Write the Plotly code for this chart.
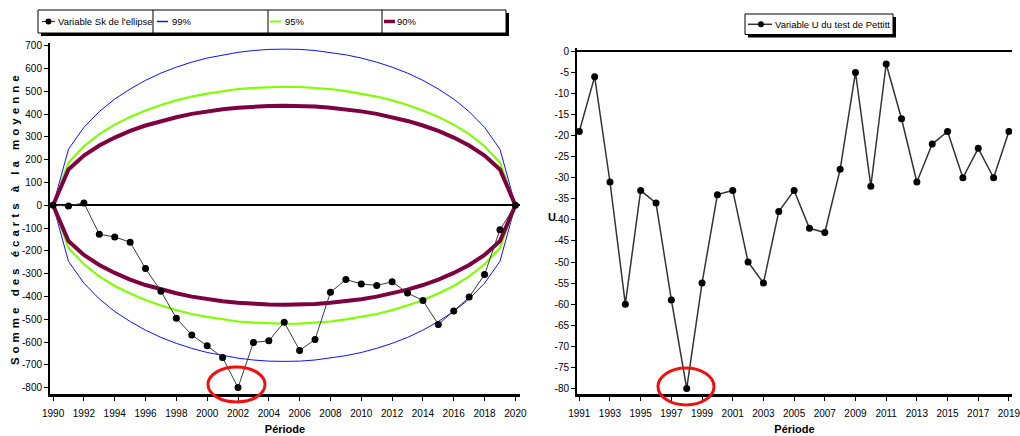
import plotly.graph_objects as go

# ---------------- data ----------------
years_sk = list(range(1990, 2021))
sk_values = [0, -3, 10, -127, -139, -162, -278, -377, -496, -569, -617, -668, -800,
             -602, -595, -513, -637, -589, -382, -326, -345, -352, -336, -385, -418,
             -523, -464, -403, -304, -107, 0]
bound_99 = [0, 246, 342, 411, 466, 510, 548, 580, 606, 628, 646, 660, 671, 679, 684, 685,
            684, 679, 671, 660, 646, 628, 606, 580, 548, 510, 466, 411, 342, 246, 0]
bound_95 = [0, 187, 259, 312, 354, 387, 416, 440, 460, 477, 490, 501, 510, 515, 519, 520,
            519, 515, 510, 501, 490, 477, 460, 440, 416, 387, 354, 312, 259, 187, 0]
bound_90 = [0, 157, 218, 262, 297, 326, 350, 370, 386, 401, 412, 421, 428, 433, 436, 437,
            436, 433, 428, 421, 412, 401, 386, 370, 350, 326, 297, 262, 218, 157, 0]

years_u = list(range(1991, 2020))
u_values = [-19, -6, -31, -60, -33, -36, -59, -80, -55, -34, -33, -50, -55, -38, -33,
            -42, -43, -28, -5, -32, -3, -16, -31, -22, -19, -30, -23, -30, -19]

left_xticks = list(range(1990, 2021, 2))
left_yticks = list(range(-800, 701, 100))
right_xticks = list(range(1991, 2020, 2))
right_yticks = list(range(-80, 1, 5))

legend_left_names = ["Variable Sk de l'ellipse", "99%", "95%", "90%"]
legend_right_name = "Variable U du test de Pettitt"

W, H = 1020, 436
def px(x):
    return x / W
def py(y):
    return 1 - y / H

FONT = "Liberation Sans, Arial, sans-serif"
C99, C95, C90 = "#1010ff", "#80ff00", "#7d0040"
CSK = "#3a3a3a"

fig = go.Figure()

# ellipse bounds (upper / lower)
for name, vals, col, wd in [("99%", bound_99, C99, 1),
                            ("95%", bound_95, C95, 2.2),
                            ("90%", bound_90, C90, 4)]:
    fig.add_trace(go.Scatter(x=years_sk, y=vals, mode="lines", name=name,
                             line=dict(color=col, width=wd), showlegend=False,
                             xaxis="x", yaxis="y"))
    fig.add_trace(go.Scatter(x=years_sk, y=[-v for v in vals], mode="lines", name=name,
                             line=dict(color=col, width=wd), showlegend=False,
                             xaxis="x", yaxis="y"))

fig.add_trace(go.Scatter(x=years_sk, y=sk_values, mode="lines+markers",
                         name=legend_left_names[0], showlegend=False,
                         line=dict(color=CSK, width=1),
                         marker=dict(color="black", size=7, symbol="circle"),
                         xaxis="x", yaxis="y"))

fig.add_trace(go.Scatter(x=years_u, y=u_values, mode="lines+markers",
                         name=legend_right_name, showlegend=False,
                         line=dict(color="#333333", width=1.5),
                         marker=dict(color="black", size=7, symbol="circle"),
                         xaxis="x2", yaxis="y2"))

tickfont = dict(family=FONT, size=10, color="black")
common_axis = dict(showgrid=False, showline=True, linecolor="black", ticks="outside",
                   ticklen=4, tickwidth=1, tickcolor="black", tickfont=tickfont,
                   automargin=False, ticklabeloverflow="allow")

shapes = []
annotations = []

def paper_line(x0, x1, y, color, width):
    shapes.append(dict(type="line", xref="paper", yref="paper", x0=px(x0), x1=px(x1),
                       y0=py(y), y1=py(y), line=dict(color=color, width=width),
                       layer="above"))

def legend_text(x, y, text):
    annotations.append(dict(text=text, x=px(x), y=py(y), xref="paper", yref="paper",
                            xanchor="left", yanchor="middle", showarrow=False,
                            borderpad=0,
                            font=dict(family=FONT, size=9.5, color="black")))

# --- left legend box ---
shapes.append(dict(type="rect", xref="paper", yref="paper", x0=px(41), x1=px(509),
                   y0=py(36), y1=py(13), fillcolor="black", line=dict(width=0), layer="above"))
shapes.append(dict(type="rect", xref="paper", yref="paper", x0=px(38), x1=px(506),
                   y0=py(33), y1=py(10), fillcolor="white", line=dict(color="black", width=1),
                   layer="above"))
for xd in [153, 268, 382]:
    shapes.append(dict(type="line", xref="paper", yref="paper", x0=px(xd), x1=px(xd),
                       y0=py(33), y1=py(10), line=dict(color="black", width=1), layer="above"))
ly = 21.5
paper_line(42, 55, ly, CSK, 1.2)
shapes.append(dict(type="circle", xref="paper", yref="paper", x0=px(45.5), x1=px(51.5),
                   y0=py(ly + 3), y1=py(ly - 3), fillcolor="black",
                   line=dict(color="black", width=0), layer="above"))
legend_text(57, ly, legend_left_names[0])
paper_line(157, 168, ly, C99, 1.5)
legend_text(171, ly, legend_left_names[1])
paper_line(270, 281, ly, C95, 2)
legend_text(284, ly, legend_left_names[2])
paper_line(384, 395, ly, C90, 3.5)
legend_text(396, ly, legend_left_names[3])

# --- right legend box ---
shapes.append(dict(type="rect", xref="paper", yref="paper", x0=px(748), x1=px(896),
                   y0=py(37.5), y1=py(17), fillcolor="black", line=dict(width=0), layer="above"))
shapes.append(dict(type="rect", xref="paper", yref="paper", x0=px(745), x1=px(893),
                   y0=py(34.5), y1=py(14), fillcolor="white", line=dict(color="black", width=1),
                   layer="above"))
ry = 24.3
paper_line(748, 772, ry, "#333333", 1.5)
shapes.append(dict(type="circle", xref="paper", yref="paper", x0=px(758), x1=px(764),
                   y0=py(ry + 3), y1=py(ry - 3), fillcolor="black",
                   line=dict(color="black", width=0), layer="above"))
legend_text(774, ry, legend_right_name)

# --- red highlight ellipses ---
shapes.append(dict(type="circle", xref="paper", yref="paper", x0=px(208), x1=px(265),
                   y0=py(402), y1=py(367), line=dict(color="#ee1111", width=3), layer="above"))
shapes.append(dict(type="circle", xref="paper", yref="paper", x0=px(658), x1=px(714),
                   y0=py(405), y1=py(368), line=dict(color="#ee1111", width=3), layer="above"))

# "U" axis label (upright)
annotations.append(dict(text="<b>U</b>", x=px(552), y=py(217), xref="paper", yref="paper",
                        showarrow=False, font=dict(family=FONT, size=11, color="black")))

fig.update_layout(
    width=W, height=H,
    margin=dict(l=0, r=0, t=0, b=0),
    paper_bgcolor="white", plot_bgcolor="white",
    font=dict(family=FONT, size=10, color="black"),
    showlegend=False,
    xaxis=dict(domain=[px(50), px(520)], range=[1989.8, 2020.3], anchor="y",
               tickvals=left_xticks, ticktext=[str(v) for v in left_xticks],
               linewidth=3, zeroline=False, ticklabelstandoff=4,
               title=dict(text="<b>Période</b>", font=dict(family=FONT, size=11), standoff=8),
               **common_axis),
    yaxis=dict(domain=[py(393.5), py(43)], range=[-826, 712], anchor="x",
               tickvals=left_yticks, ticktext=[str(v) for v in left_yticks],
               linewidth=2, zeroline=True, zerolinecolor="black", zerolinewidth=1.5,
               title=dict(text="<b>Somme des écarts à la moyenne</b>",
                          font=dict(family=FONT, size=11.5), standoff=0),
               **common_axis),
    xaxis2=dict(domain=[px(577), px(1012)], range=[1990.85, 2019.2], anchor="y2",
                tickvals=right_xticks, ticktext=[str(v) for v in right_xticks],
                linewidth=3, zeroline=False, ticklabelstandoff=4,
                title=dict(text="<b>Période</b>", font=dict(family=FONT, size=11), standoff=8),
                **common_axis),
    yaxis2=dict(domain=[py(393.5), py(48)], range=[-81.2, 0.8], anchor="x2",
                tickvals=right_yticks, ticktext=[str(v) for v in right_yticks],
                linewidth=2, zeroline=True, zerolinecolor="black", zerolinewidth=2,
                **common_axis),
    shapes=shapes,
    annotations=annotations,
)

fig.write_html(
    "out.html",
    config={"displayModeBar": False},
    post_script="document.body.style.margin='0px';document.body.style.padding='0px';"
                "document.body.style.overflow='hidden';"
                "document.querySelectorAll('.ytitle').forEach(function(t)"
                "{t.style.letterSpacing='4px';});",
)
